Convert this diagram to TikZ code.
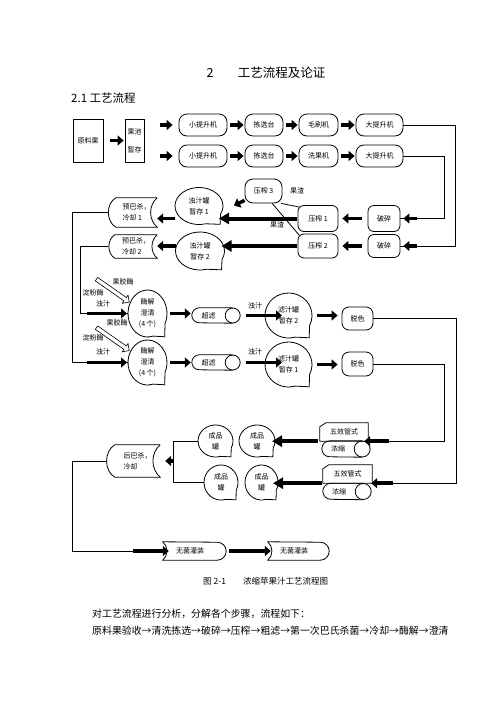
\documentclass[tikz,border=0pt]{standalone}
\usepackage{fontspec}
\setmainfont{Noto Sans CJK SC}
\usetikzlibrary{shapes.geometric,shapes.arrows,arrows.meta,calc}

\tikzset{
  every node/.style={font=\fontsize{7}{11}\selectfont, inner sep=0pt, align=center},
  thinline/.style={line width=0.8pt},
  box/.style={draw, line width=0.8pt},
  pill/.style={draw, line width=0.8pt, rounded corners=8pt, minimum height=22pt},
  sq/.style={draw, line width=0.8pt, rounded corners=6pt},
  tank/.style={ellipse, inner sep=0pt, outer sep=0pt},
  fat/.style={line width=3.5pt, -{Triangle[length=6pt,width=10pt]}, shorten <=3pt, shorten >=1pt},
  bigfat/.style={line width=4pt, -{Triangle[length=10pt,width=11pt]}, shorten <=1pt, shorten >=1pt},
  hollow/.style={single arrow, draw, line width=0.6pt, fill=white, minimum height=40pt, minimum width=10pt, single arrow head extend=2.5pt, inner sep=1.5pt},
  head/.style={font=\fontsize{12.5}{14}\selectfont},
}

\begin{document}
\begin{tikzpicture}[x=1pt,y=1pt]
\useasboundingbox (0,0) rectangle (496,-702);

% heading
\node[head] (chapnum) at (210,-73) {2};
\node[head] (chaptitle) at (281.5,-73) {工艺流程及论证};
\node[anchor=west, font=\fontsize{11.5}{13}\selectfont] (secttitle) at (71,-98) {2.1 工艺流程};

% raw fruit, washing lines
\node[box, minimum width=30pt, minimum height=43pt] (raw) at (88,-140.5) {原料果};
\node[box, minimum width=19pt, minimum height=43pt, font=\fontsize{7}{18}\selectfont] (pool) at (134.5,-140.5) {果池\\暂存};
\node[pill, minimum width=48pt] (lift1) at (203,-125) {小提升机};
\node[pill, minimum width=38pt] (pick1) at (264,-125) {拣选台};
\node[pill, minimum width=39pt] (brush) at (318.5,-125) {毛刷机};
\node[pill, minimum width=47pt] (top1) at (379.5,-125) {大提升机};
\node[pill, minimum width=48pt] (lift2) at (203,-156) {小提升机};
\node[pill, minimum width=38pt] (pick2) at (264,-156) {拣选台};
\node[pill, minimum width=39pt] (wash) at (318.5,-156) {洗果机};
\node[pill, minimum width=47pt] (top2) at (379.5,-156) {大提升机};

\draw[fat, shorten <=7pt] (raw) -- (pool);
\draw[fat, shorten <=16pt, shorten >=6pt] (pool.east |- lift1) -- (lift1.west);
\draw[fat, shorten <=16pt, shorten >=6pt] (pool.east |- lift2) -- (lift2.west);
\foreach \p/\q in {lift1/pick1,pick1/brush,brush/top1,lift2/pick2,pick2/wash,wash/top2}
  \draw[fat] (\p) -- (\q);

% crushing and pressing
\node[sq, minimum width=32pt, minimum height=26pt] (crush1) at (384,-218.5) {破碎};
\node[sq, minimum width=32pt, minimum height=23pt] (crush2) at (384,-246) {破碎};
\node[sq, minimum width=40pt, minimum height=26pt] (press1) at (318,-218.5) {压榨 1};
\node[sq, minimum width=40pt, minimum height=24pt] (press2) at (318,-246) {压榨 2};
\node[sq, rounded corners=8pt, minimum width=37pt, minimum height=24pt] (press3) at (263.5,-191) {压榨 3};
\node (pomace1) at (297,-191) {果渣};
\node (pomace2) at (277,-225) {果渣};
\coordinate (out3) at (233,-206);

\draw[thinline] (top1.east) -| ([xshift=55pt]crush2.east) -- (crush2.east);
\draw[thinline] (top2.east) -| ([xshift=44pt]crush1.east) -- (crush1.east);
\draw[fat, shorten >=3pt] ([xshift=20pt]crush1.east) -- (crush1.east);
\draw[fat, shorten >=3pt] ([xshift=20pt]crush2.east) -- (crush2.east);
\draw[fat, shorten <=6pt, shorten >=4pt] (crush1) -- (press1);
\draw[fat, shorten <=6pt, shorten >=4pt] (crush2) -- (press2);
\draw[thinline] (press3.-35) -- ([xshift=2pt,yshift=-2pt]press1.north west);
\draw[thinline] (press3.-55) -- ([xshift=2pt,yshift=-2pt]press2.north west);
\draw[fat, shorten <=0pt] ([yshift=3pt]press3.south west) -- (out3);

% tanks
\foreach \n/\cx/\cy/\ra/\rb/\txt in {
  murky1/199/-206/24pt/18.5pt/{浊汁罐\\暂存 1},
  murky2/200/-251/24.5pt/19pt/{浊汁罐\\暂存 2},
  enz1/147.5/-313.5/19.5pt/23.5pt/{酶解\\澄清\\(4 个)},
  enz2/147.5/-362.5/19.5pt/22.5pt/{酶解\\澄清\\(4 个)},
  filt2/288.5/-315.5/23.5pt/22.5pt/{滤汁罐\\暂存 2},
  filt1/288.5/-364.5/23.5pt/22.5pt/{滤汁罐\\暂存 1},
  prodA/215.5/-441/17.5pt/16pt/{成品\\罐},
  prodB/257/-441/18pt/16pt/{成品\\罐},
  prodC/221/-482.5/17pt/17.5pt/{成品\\罐},
  prodD/261.5/-482.5/16.5pt/17.5pt/{成品\\罐}}
{
  \node[tank, minimum width=2*\ra, minimum height=2*\rb] (\n) at (\cx,\cy) {\txt};
  \draw[thinline] ($(\n.center)+({0.899*\ra},{-0.438*\rb})$) arc[start angle=-26, end angle=286, x radius=\ra, y radius=\rb]
    -- ($(\n.center)+({0.88*\ra},{-0.99*\rb})$) -- cycle;
}

% pasteurising
\node[minimum width=41pt, minimum height=29pt, align=left] (pre1) at (136.5,-212.5) {预巴杀，\\冷却 1};
\node[minimum width=42pt, minimum height=23pt, align=left] (pre2) at (136,-246.5) {预巴杀，\\冷却 2};
\node[minimum width=45pt, minimum height=32pt, align=left] (post) at (137.5,-461) {后巴杀，\\冷却};
\foreach \n in {pre1,pre2,post}
  \draw[thinline] (\n.north east) -- (\n.north west) to[bend right=60] (\n.south west)
    -- (\n.south east) to[bend left=50] (\n.north east);

\draw[bigfat, shorten >=-4pt] (press1.west) -- (press1.west -| murky1.east);
\draw[bigfat, shorten >=-3pt] (press2.west) -- (press2.west -| murky2.east);
\draw[fat, shorten <=0pt, shorten >=0pt] (press1.west -| murky1.west) -- (press1.west -| pre1.east);
\draw[fat, shorten <=0pt, shorten >=0pt] (press2.west -| murky2.west) -- (press2.west -| pre2.east);

% enzymes, ultrafiltration
\node[hollow, rotate=-35] (enzA1) at (112,-290) {};
\node[hollow, rotate=-35] (enzA2) at (112,-338.5) {};
\node (pectin1) at (123,-282) {果胶酶};
\node (starch1) at (93,-293) {淀粉酶};
\node (juice1) at (103,-304) {浊汁};
\node (pectin2) at (117,-323) {果胶酶};
\node (starch2) at (93,-338) {淀粉酶};
\node (juice2) at (103,-352) {浊汁};

\draw[thinline] ([xshift=-8pt]pre1.west) -- ++(-35,0) |- (enz2.west);
\draw[thinline] ([xshift=-7pt]pre2.west) -- ++(-27,0) |- (enz1.west);
\draw[fat, shorten <=0pt] ([xshift=-41pt]enz1.west) -- (enz1.west);
\draw[fat, shorten <=0pt] ([xshift=-41pt]enz2.west) -- (enz2.west);

\node[minimum width=33pt, minimum height=15pt] (uf1) at (208.5,-315.5) {超滤};
\node[minimum width=33pt, minimum height=15pt] (uf2) at (208.5,-362.5) {超滤};
\node[minimum width=32pt, minimum height=16pt] (cyl1) at (338,-449) {浓缩};
\node[minimum width=32pt, minimum height=16pt] (cyl2) at (339,-491.5) {浓缩};
\foreach \n/\r in {uf1/7.5pt,uf2/7.5pt,cyl1/8pt,cyl2/8pt}{
  \draw[thinline] ([xshift=\r]\n.north east) -- ([xshift=\r]\n.north west)
    arc[start angle=90, end angle=270, radius=\r] -- ([xshift=\r]\n.south east);
  \draw[thinline] ([xshift=\r]\n.east) circle[radius=\r];
}

\node (juice3) at (255,-306) {浊汁};
\node (juice4) at (255,-352) {浊汁};
\draw[fat] (enz1.east) -- (enz1.east -| uf1.west);
\draw[fat] (enz2.east) -- (enz2.east -| uf2.west);
\draw[fat] ([xshift=18pt]uf1.east) -- ([xshift=18pt]uf1.east -| filt2.west);
\draw[fat] ([xshift=18pt]uf2.east) -- ([xshift=18pt]uf2.east -| filt1.west);

\node[sq, rounded corners=7pt, minimum width=31pt, minimum height=23pt] (dec1) at (357.5,-318.5) {脱色};
\node[sq, rounded corners=7pt, minimum width=31pt, minimum height=24pt] (dec2) at (357.5,-364) {脱色};
\draw[fat, shorten <=5pt, shorten >=4pt] (filt2.east) -- (filt2.east -| dec1.west);
\draw[fat, shorten <=5pt, shorten >=4pt] (filt1.east) -- (filt1.east -| dec2.west);

% evaporation
\node[minimum width=48pt, minimum height=18pt] (card1) at (344,-432) {五效管式};
\node[minimum width=49pt, minimum height=18pt] (card2) at (347.5,-474) {五效管式};
\foreach \n in {card1,card2}
  \draw[thinline] (\n.north east) -- ([xshift=6pt]\n.north west) -- ([yshift=-4pt]\n.north west)
    -- (\n.south west) -- (\n.south east) -- cycle;

\draw[thinline] (dec1.east) -| ([xshift=84pt]card2.south east) -- ([xshift=20pt]card2.south east);
\draw[thinline] (dec2.east) -| ([xshift=76pt]card1.south east) -- ([xshift=20pt]card1.south east);
\draw[fat, shorten <=0pt, shorten >=-4pt] ([xshift=21pt]card1.south east) -- (card1.south east);
\draw[fat, shorten <=0pt, shorten >=-1pt] ([xshift=21pt]card2.south east) -- (card2.south east);
\draw[bigfat, shorten <=2pt, shorten >=-3pt] (card1.south west) -- (card1.south west -| prodB.east);
\draw[bigfat, shorten <=1pt, shorten >=-5pt] (card2.south west) -- (card2.south west -| prodD.east);

% bottling
\coordinate (jn) at ($(prodA.west)+(-25,0)$);
\draw[thinline] (prodA.west) -- (jn) |- (prodC.west);
\draw[fat, shorten <=0pt, shorten >=5pt] (jn |- post.east) -- (post.east);

\node[minimum width=54pt, minimum height=18pt] (asep1) at (190,-551) {无菌灌装};
\node[minimum width=52pt, minimum height=18pt] (asep2) at (294,-551) {无菌灌装};
\foreach \n in {asep1,asep2}
  \draw[thinline] (\n.north west) to[bend left=50] (\n.south west) -- (\n.south east)
    arc[start angle=-90, end angle=90, radius=9pt] -- cycle;

\draw[thinline] ([xshift=-8pt]post.west) -- ++(-34,0) |- (asep1.west);
\draw[fat, shorten <=0pt, shorten >=-6pt] ([xshift=-30pt]asep1.west) -- (asep1.west);
\draw[fat, shorten <=12pt, shorten >=-3pt] (asep1.east) -- (asep2.west);

% caption and text
\node[anchor=west, font=\fontsize{8.5}{10}\selectfont] (figno) at (203,-581) {图 2-1};
\node[anchor=west, font=\fontsize{8.5}{10}\selectfont] (figtitle) at (243,-581) {浓缩苹果汁工艺流程图};
\node[anchor=west, font=\fontsize{9.9}{12}\selectfont] (para1) at (92,-614) {对工艺流程进行分析，分解各个步骤，流程如下：};
\node[anchor=west, font=\fontsize{9.9}{12}\selectfont] (para2) at (92,-631) {原料果验收→清洗拣选→破碎→压榨→粗滤→第一次巴氏杀菌→冷却→酶解→澄清};
\end{tikzpicture}
\end{document}
